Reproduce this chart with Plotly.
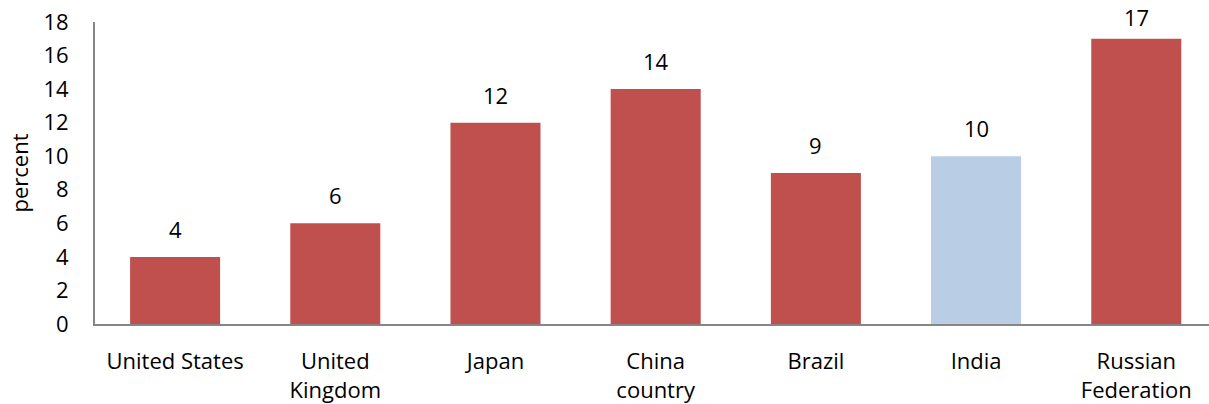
import plotly.graph_objects as go

categories = ["United States", "United<br>Kingdom", "Japan", "China<br>country", "Brazil", "India", "Russian<br>Federation"]
values = [4, 6, 12, 14, 9, 10, 17]
bar_colors = ["#C0504D", "#C0504D", "#C0504D", "#C0504D", "#C0504D", "#B9CDE5", "#C0504D"]
y_ticks = [0, 2, 4, 6, 8, 10, 12, 14, 16, 18]

FONT = "Open Sans"
FS = 22
Y_MAX = 18
PLOT_H = 302           # plot area height in px (404 - 22 - 80)
LABEL_GAP = 28         # label centre above bar top, px
LABEL_MIN_TOP = -5     # highest allowed label centre relative to plot top, px

fig = go.Figure()
fig.add_trace(go.Bar(
    x=categories, y=values,
    marker=dict(color=bar_colors, line=dict(width=0)),
    width=0.562,
    hoverinfo="skip",
))

px_per_unit = PLOT_H / Y_MAX
for c, v in zip(categories, values):
    bar_top_from_plot_top = (Y_MAX - v) * px_per_unit
    shift = min(LABEL_GAP, bar_top_from_plot_top - LABEL_MIN_TOP)
    fig.add_annotation(x=c, y=v, text=str(v), showarrow=False,
                       yanchor="middle", yshift=shift,
                       font=dict(family=FONT, size=FS, color="#000000"))

fig.update_layout(
    width=1209, height=404,
    margin=dict(l=95, r=0, t=22, b=80),
    plot_bgcolor="white", paper_bgcolor="white",
    showlegend=False,
    hovermode=False,
    font=dict(family=FONT, size=FS, color="#000000"),
    xaxis=dict(
        range=[-0.5, 6.454],
        showline=True, linecolor="#868686", linewidth=2,
        ticks="", showgrid=False, zeroline=False,
        tickfont=dict(family=FONT, size=FS),
        ticklabelstandoff=17,
    ),
    yaxis=dict(
        range=[0, Y_MAX], tickvals=y_ticks,
        showline=True, linecolor="#868686", linewidth=2,
        ticks="", showgrid=False, zeroline=False,
        tickfont=dict(family=FONT, size=FS),
        ticklabelstandoff=20,
        ticklabeloverflow="allow",
        title=dict(text="percent", font=dict(family=FONT, size=FS), standoff=9),
    ),
)

fig.write_html("out.html", config={"displayModeBar": False},
               post_script="document.body.style.margin='0';")
